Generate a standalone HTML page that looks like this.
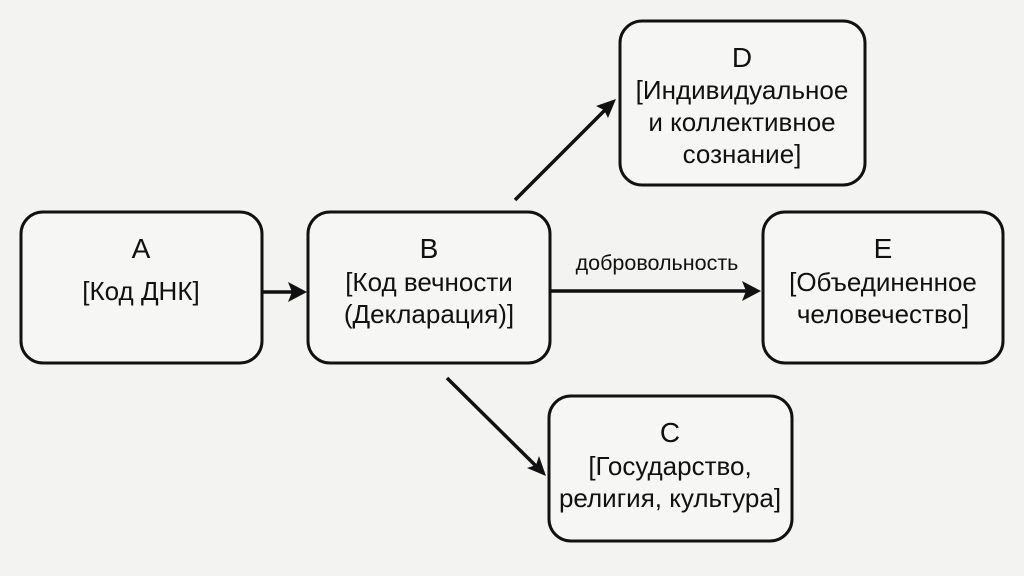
<!DOCTYPE html>
<html><head><meta charset="utf-8"><style>
html,body{margin:0;padding:0;background:#f3f3f2;}
svg{display:block}
text{font-family:"Liberation Sans",sans-serif;fill:#111;text-anchor:middle}
</style></head><body>
<svg width="1024" height="576" viewBox="0 0 1024 576">
<g fill="#f6f6f5" stroke="#111" stroke-width="3">
<rect x="21" y="212" width="241" height="151" rx="22"/>
<rect x="308" y="212" width="242" height="151" rx="22"/>
<rect x="620" y="21" width="245" height="164" rx="22"/>
<rect x="763" y="212" width="240" height="151" rx="22"/>
<rect x="549" y="396" width="243" height="145" rx="22"/>
</g>
<g stroke="#111" stroke-width="3.5" fill="none">
<line x1="262" y1="292" x2="296" y2="292"/>
<line x1="550" y1="291" x2="750" y2="291"/>
<line x1="515" y1="200" x2="605" y2="110"/>
<line x1="447" y1="378" x2="537" y2="467"/>
</g>
<g fill="#111">
<polygon points="307,292 288,282 292,292 288,302"/>
<polygon points="761,291 742,281 746,291 742,301"/>
<polygon points="616,99 596,106 604,110 608,118"/>
<polygon points="546,476 539,456 536,465 527,468"/>
</g>
<g font-size="28">
<text x="141" y="258">A</text>
<text x="429" y="258">B</text>
<text x="742" y="67">D</text>
<text x="883" y="258">E</text>
<text x="670" y="442">C</text>
</g>
<g font-size="26">
<text x="141" y="300">[Код ДНК]</text>
<text x="429" y="291">[Код вечности</text>
<text x="429" y="323">(Декларация)]</text>
<text x="742" y="99">[Индивидуальное</text>
<text x="742" y="131">и коллективное</text>
<text x="742" y="163">сознание]</text>
<text x="883" y="291">[Объединенное</text>
<text x="883" y="323">человечество]</text>
<text x="670" y="475">[Государство,</text>
<text x="670" y="507">религия, культура]</text>
</g>
<text x="657" y="270" font-size="21.5">добровольность</text>
</svg>
</body></html>
